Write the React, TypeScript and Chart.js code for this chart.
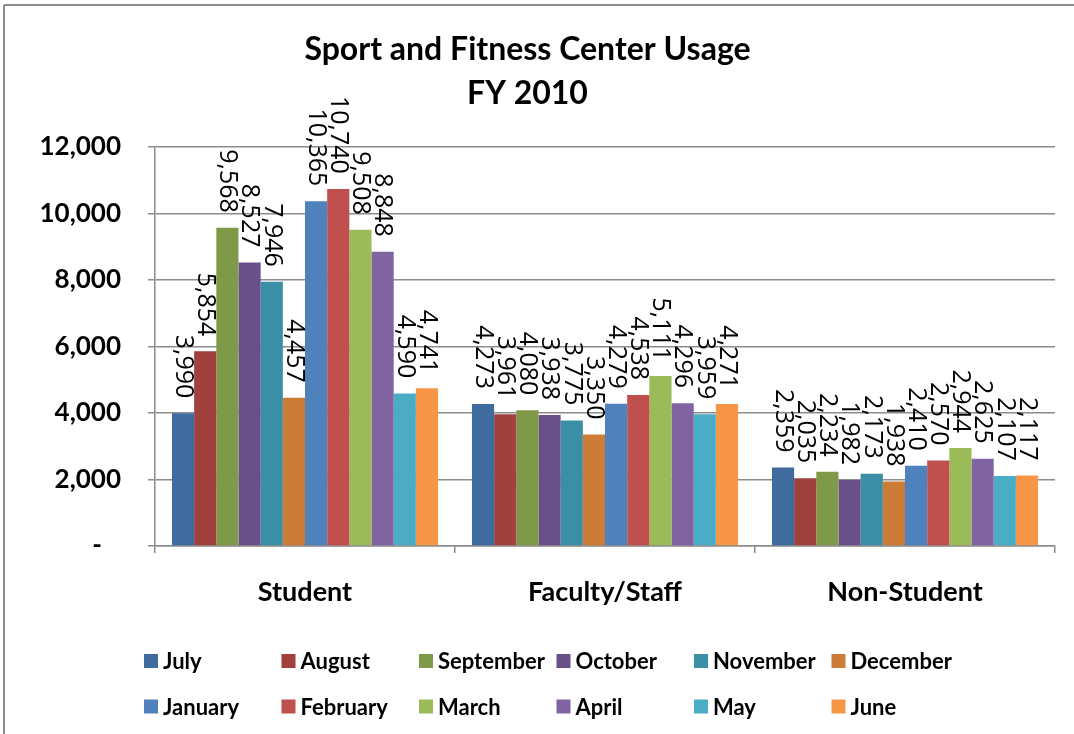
import React, { useEffect, useRef } from "react";
import { Chart, registerables } from "chart.js";

Chart.register(...registerables);

const categories = ["Student", "Faculty/Staff", "Non-Student"];
const months = [
  "July", "August", "September", "October", "November", "December",
  "January", "February", "March", "April", "May", "June",
];
const colors = [
  "#3F6B9E", "#A0413E", "#7E9A49", "#6A5089", "#3A8EA5", "#CD7C37",
  "#4F81BD", "#C0504D", "#9BBB59", "#8064A2", "#4BACC6", "#F79646",
];
// values per month: [Student, Faculty/Staff, Non-Student]
const july = [3990, 4273, 2359];
const august = [5854, 3961, 2035];
const september = [9568, 4080, 2234];
const october = [8527, 3938, 1982];
const november = [7946, 3775, 2173];
const december = [4457, 3350, 1938];
const january = [10365, 4279, 2410];
const february = [10740, 4538, 2570];
const march = [9508, 5111, 2944];
const april = [8848, 4296, 2625];
const may = [4590, 3959, 2107];
const june = [4741, 4271, 2117];
const seriesValues = [july, august, september, october, november, december, january, february, march, april, may, june];

const titleLines = ["Sport and Fitness Center Usage", "FY 2010"];
const yMax = 12000;
const yStep = 2000;

const fmt = (v: number) => v.toLocaleString("en-US");

const GRID = "#8c8c8c";

const framePlugin = {
  id: "frame",
  beforeDraw(chart: any) {
    const ctx = chart.ctx;
    ctx.save();
    ctx.fillStyle = "#ffffff";
    ctx.fillRect(0, 0, chart.width, chart.height);
    ctx.strokeStyle = GRID;
    ctx.lineWidth = 2;
    ctx.beginPath();
    ctx.moveTo(4, 5);
    ctx.lineTo(chart.width, 5);
    ctx.moveTo(4, 5);
    ctx.lineTo(4, chart.height);
    ctx.stroke();
    ctx.restore();
  },
};

const labelPlugin = {
  id: "barLabels",
  afterDatasetsDraw(chart: any) {
    const ctx = chart.ctx;
    ctx.save();
    ctx.font = "25px 'Open Sans'";
    ctx.fillStyle = "#000";
    ctx.textAlign = "right";
    ctx.textBaseline = "middle";
    chart.data.datasets.forEach((ds: any, di: number) => {
      const meta = chart.getDatasetMeta(di);
      meta.data.forEach((el: any, i: number) => {
        const v = ds.data[i];
        ctx.save();
        ctx.translate(el.x, el.y - 15);
        ctx.rotate(Math.PI / 2);
        ctx.fillText(fmt(v), 0, 0);
        ctx.restore();
      });
    });
    ctx.restore();
  },
};

const legendPlugin = {
  id: "gridLegend",
  afterDraw(chart: any) {
    const ctx = chart.ctx;
    ctx.save();
    ctx.font = "bold 22px Lato";
    ctx.textAlign = "left";
    ctx.textBaseline = "middle";
    chart.data.datasets.forEach((ds: any, i: number) => {
      const row = Math.floor(i / 6);
      const col = i % 6;
      const x = 144 + col * 137.5;
      const y = 661 + row * 45.5;
      ctx.fillStyle = ds.backgroundColor;
      ctx.fillRect(x, y - 7, 14, 14);
      ctx.fillStyle = "#000";
      ctx.fillText(ds.label, x + 19, y + 1);
    });
    ctx.restore();
  },
};

export default function App() {
  const ref = useRef<HTMLCanvasElement>(null);
  useEffect(() => {
    if (!ref.current) return;
    const chart = new Chart(ref.current, {
      type: "bar",
      data: {
        labels: categories,
        datasets: months.map((m, i) => ({
          label: m,
          data: seriesValues[i],
          backgroundColor: colors[i],
          borderWidth: 0,
          categoryPercentage: 0.887,
          barPercentage: 1,
        })),
      },
      options: {
        responsive: false,
        animation: false,
        devicePixelRatio: 1,
        layout: { padding: { left: 0, right: 19, top: 0, bottom: 0 } },
        plugins: {
          legend: { display: false },
          tooltip: { enabled: false },
          title: {
            display: true,
            text: titleLines,
            color: "#000",
            font: { family: "Lato", size: 32, weight: "bold", lineHeight: 44 / 32 },
            padding: { top: 28, bottom: 31 },
          },
        },
        scales: {
          x: {
            afterFit: (s: any) => { s.height = 188; },
            grid: {
              drawOnChartArea: false,
              drawTicks: true,
              tickLength: 7,
              color: GRID,
              lineWidth: 1.5,
              offset: true,
            },
            border: { display: true, color: GRID, width: 1.5 },
            ticks: {
              color: "#000",
              font: { family: "Lato", size: 27, weight: "bold" },
              padding: 23,
              maxRotation: 0,
            },
          },
          y: {
            min: 0,
            max: yMax,
            afterFit: (s: any) => { s.width = 155; },
            grid: { color: GRID, lineWidth: 1.5, tickLength: 7, drawTicks: true },
            border: { display: true, color: GRID, width: 1.5 },
            ticks: {
              stepSize: yStep,
              color: "#000",
              padding: 27,
              font: { family: "Lato", size: 26, weight: "bold" },
              callback: (v: any) => (Number(v) === 0 ? "-   " : fmt(Number(v))),
            },
          },
        },
      },
      plugins: [framePlugin, labelPlugin, legendPlugin],
    });
    return () => chart.destroy();
  }, []);
  return (
    <div style={{ position: "fixed", left: 0, top: 0, width: 1074, height: 734 }}>
      <canvas ref={ref} width={1074} height={734} />
    </div>
  );
}
